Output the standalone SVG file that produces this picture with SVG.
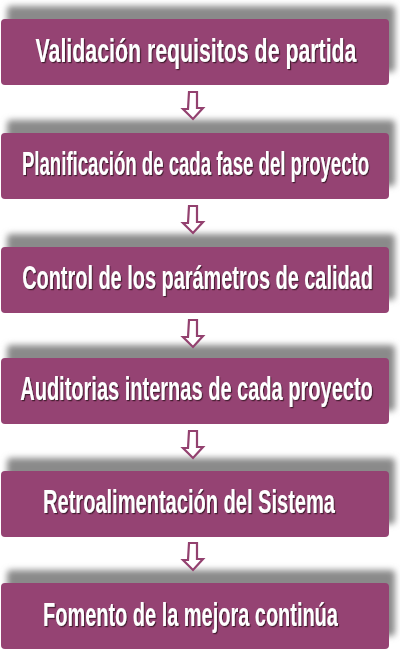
<svg xmlns="http://www.w3.org/2000/svg" width="400" height="650" viewBox="0 0 400 650">
<defs>
<filter id="sh" x="-10%" y="-40%" width="120%" height="180%"><feGaussianBlur stdDeviation="3"/></filter>
<filter id="ts" x="-5%" y="-20%" width="110%" height="140%"><feDropShadow dx="1.8" dy="1.2" stdDeviation="0.6" flood-color="#2a0a1c" flood-opacity="0.75"/></filter>
</defs>
<style>
.shadow{fill:#8a8a8a;filter:url(#sh)}
.box{fill:#954373}
.lbl{font-family:"Liberation Sans",Arial,sans-serif;font-weight:bold;font-size:32.5px;fill:#ffffff;text-anchor:middle;filter:url(#ts)}
.arr{fill:#ffffff;stroke:#93416f;stroke-width:2.2;stroke-linejoin:miter}
</style>
<rect width="400" height="650" fill="#ffffff"/>
<g id="node1">
<rect class="shadow" x="7" y="6" width="388" height="66" rx="4"/>
<rect class="box" x="1" y="19" width="388" height="66" rx="4"/>
<text class="lbl" transform="translate(196,62) scale(0.656,1)" x="0" y="0">Validación requisitos de partida</text>
</g>
<g id="node2">
<rect class="shadow" x="7" y="120" width="388" height="66" rx="4"/>
<rect class="box" x="1" y="133" width="388" height="66" rx="4"/>
<text class="lbl" transform="translate(195.5,175) scale(0.572,1)" x="0" y="0">Planificación de cada fase del proyecto</text>
</g>
<g id="node3">
<rect class="shadow" x="7" y="234" width="388" height="66" rx="4"/>
<rect class="box" x="1" y="247" width="388" height="66" rx="4"/>
<text class="lbl" transform="translate(197.5,289) scale(0.613,1)" x="0" y="0">Control de los parámetros de calidad</text>
</g>
<g id="node4">
<rect class="shadow" x="7" y="345" width="388" height="66" rx="4"/>
<rect class="box" x="1" y="358" width="388" height="66" rx="4"/>
<text class="lbl" transform="translate(196.5,400) scale(0.616,1)" x="0" y="0">Auditorias internas de cada proyecto</text>
</g>
<g id="node5">
<rect class="shadow" x="7" y="458" width="388" height="66" rx="4"/>
<rect class="box" x="1" y="471" width="388" height="66" rx="4"/>
<text class="lbl" transform="translate(189,513) scale(0.617,1)" x="0" y="0">Retroalimentación del Sistema</text>
</g>
<g id="node6">
<rect class="shadow" x="7" y="570" width="388" height="66" rx="4"/>
<rect class="box" x="1" y="583" width="388" height="66" rx="4"/>
<text class="lbl" transform="translate(190.5,626) scale(0.614,1)" x="0" y="0">Fomento de la mejora continúa</text>
</g>
<g id="connectors">
<path class="arr" d="M189,92 L197,92 L197,108 L203,108 L193,119 L183,109 L188,109 Z"/>
<path class="arr" transform="translate(0,114)" d="M189,92 L197,92 L197,108 L203,108 L193,119 L183,109 L188,109 Z"/>
<path class="arr" transform="translate(0,228)" d="M189,92 L197,92 L197,108 L203,108 L193,119 L183,109 L188,109 Z"/>
<path class="arr" transform="translate(0,339)" d="M189,92 L197,92 L197,108 L203,108 L193,119 L183,109 L188,109 Z"/>
<path class="arr" transform="translate(0,451)" d="M189,92 L197,92 L197,108 L203,108 L193,119 L183,109 L188,109 Z"/>
</g>
</svg>
